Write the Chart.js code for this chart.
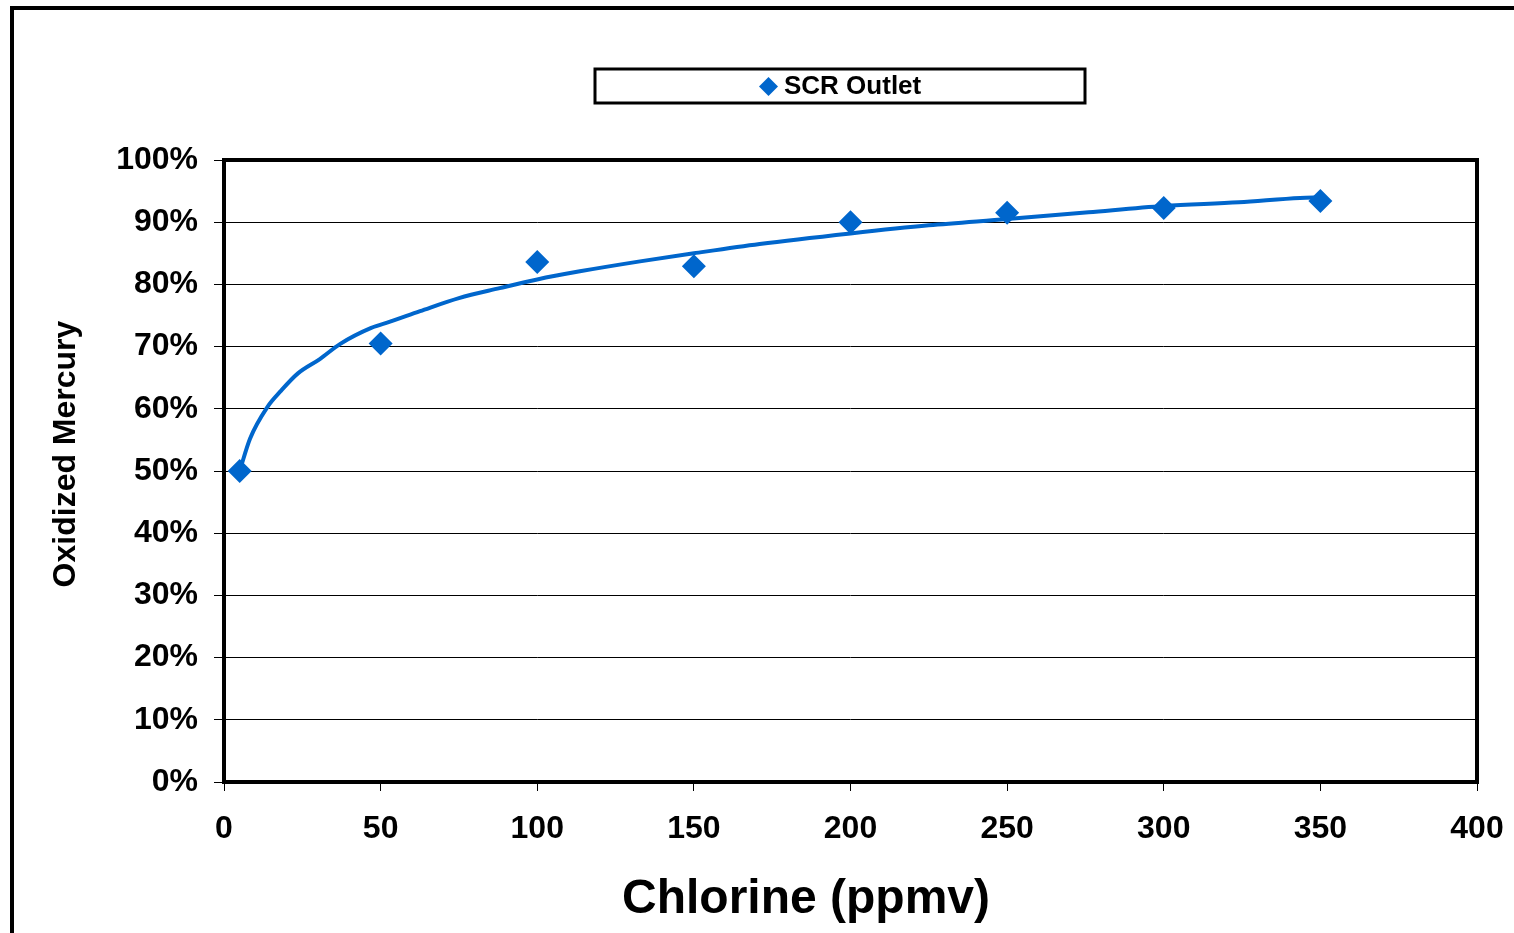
<!DOCTYPE html>
<html>
<head>
<meta charset="utf-8">
<script src="https://cdn.jsdelivr.net/npm/chart.js@4"></script>
<style>
  html, body { margin: 0; padding: 0; background: #fff; overflow: hidden; }
  #frame { position: absolute; left: 10px; top: 6px; width: 1600px; height: 1000px; border: 4px solid #000; }
  #wrap { position: absolute; left: 0; top: 0; width: 1514px; height: 933px; }
</style>
</head>
<body>
<div id="frame"></div>
<div id="wrap"><canvas id="chart"></canvas></div>
<script>
// measured points
const chlorine = [5, 50, 100, 150, 200, 250, 300, 350];
const oxidized = [50, 70.5, 83.6, 82.9, 90.0, 91.5, 92.3, 93.4];

// trend line
const trendX = [5, 8.3, 14, 18, 23.6, 30.6, 37, 47, 53, 62.6, 75, 88, 100, 113.6, 132.8, 150, 171, 200, 225, 250, 276, 300, 324, 343.5, 350];
const trendY = [50, 55.2, 60.4, 62.8, 65.7, 68, 70.4, 73, 74, 75.7, 77.8, 79.4, 80.8, 82.1, 83.7, 85, 86.5, 88.2, 89.5, 90.5, 91.6, 92.6, 93.2, 93.9, 94];

const seriesName = 'SCR Outlet';
const xTitle = 'Chlorine (ppmv)';
const yTitle = 'Oxidized Mercury';

const BLUE = '#0066CC';
const FONT = "'Liberation Sans', Arial, sans-serif";

// plot frame, legend box and axis titles
const decor = {
  id: 'decor',
  beforeDatasetsDraw(chart) {
    const { ctx, chartArea: a } = chart;
    ctx.save();
    ctx.strokeStyle = '#000';
    ctx.lineWidth = 4;
    ctx.strokeRect(a.left, a.top, a.right - a.left, a.bottom - a.top);
    ctx.restore();
  },
  afterDraw(chart) {
    const ctx = chart.ctx;
    ctx.save();
    // legend
    ctx.strokeStyle = '#000';
    ctx.lineWidth = 3;
    ctx.strokeRect(595, 69, 490, 34);
    ctx.fillStyle = BLUE;
    ctx.beginPath();
    ctx.moveTo(768.5, 77);
    ctx.lineTo(778, 86.5);
    ctx.lineTo(768.5, 96);
    ctx.lineTo(759, 86.5);
    ctx.closePath();
    ctx.fill();
    ctx.fillStyle = '#000';
    ctx.font = 'bold 26px ' + FONT;
    ctx.textBaseline = 'middle';
    ctx.textAlign = 'left';
    ctx.fillText(seriesName, 784, 87);
    // x title
    ctx.font = 'bold 48px ' + FONT;
    ctx.textAlign = 'center';
    ctx.fillText(xTitle, 806, 900);
    // y title
    ctx.translate(66, 454);
    ctx.rotate(-Math.PI / 2);
    ctx.font = 'bold 32px ' + FONT;
    ctx.fillText(yTitle, 0, 0);
    ctx.restore();
  }
};

new Chart(document.getElementById('chart'), {
  type: 'scatter',
  data: {
    datasets: [
      {
        label: seriesName,
        data: chlorine.map((x, i) => ({ x: x, y: oxidized[i] })),
        pointStyle: 'rectRot',
        pointRadius: 12,
        pointHoverRadius: 12,
        backgroundColor: BLUE,
        borderColor: BLUE,
        borderWidth: 0,
        showLine: false
      },
      {
        label: 'trend',
        data: trendX.map((x, i) => ({ x: x, y: trendY[i] })),
        showLine: true,
        borderColor: BLUE,
        borderWidth: 4,
        pointRadius: 0,
        cubicInterpolationMode: 'monotone'
      }
    ]
  },
  options: {
    responsive: true,
    maintainAspectRatio: false,
    animation: false,
    layout: { padding: { left: 0, top: 160, right: 37, bottom: 0 } },
    plugins: { legend: { display: false }, tooltip: { enabled: false } },
    scales: {
      x: {
        type: 'linear',
        min: 0,
        max: 400,
        afterFit: (s) => { s.height = 151; s.paddingLeft = 0; s.paddingRight = 0; },
        border: { display: false },
        grid: { drawOnChartArea: false, drawTicks: true, tickLength: 9, color: '#000', lineWidth: 1 },
        ticks: { stepSize: 50, color: '#000', padding: 19, font: { family: FONT, size: 32, weight: 'bold' } }
      },
      y: {
        min: 0,
        max: 100,
        afterFit: (s) => { s.width = 224; },
        border: { display: false },
        grid: { color: '#000', lineWidth: 1, tickLength: 10 },
        ticks: {
          stepSize: 10,
          color: '#000',
          padding: 16,
          font: { family: FONT, size: 32, weight: 'bold' },
          callback: (v) => v + '%'
        }
      }
    }
  },
  plugins: [decor]
});
</script>
</body>
</html>
